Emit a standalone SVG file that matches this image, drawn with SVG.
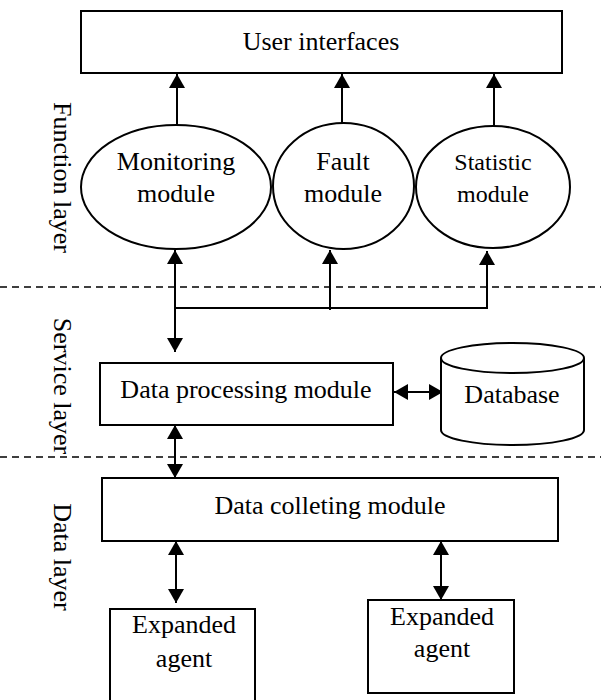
<svg xmlns="http://www.w3.org/2000/svg" width="601" height="700" viewBox="0 0 601 700">
<style>
.box{fill:#fff;stroke:#000;stroke-width:2}
.t{font-family:"Liberation Serif","Times New Roman",serif;font-size:26px;fill:#000;text-anchor:middle}
.ln{stroke:#000;stroke-width:2;fill:none}
.dash{stroke:#000;stroke-width:1.5;stroke-dasharray:7 5}
</style>
<defs>
<marker id="ah" viewBox="0 0 14 16" refX="14" refY="8" markerWidth="14" markerHeight="16" markerUnits="userSpaceOnUse" orient="auto-start-reverse">
<path d="M0,0 L14,8 L0,16 Z" fill="#000"/>
</marker>
</defs>
<rect width="601" height="700" fill="#fff"/>
<g id="layers">
<line class="dash" x1="0" y1="287" x2="601" y2="287"/>
<line class="dash" x1="0" y1="457" x2="601" y2="457"/>
<text class="t" x="54" y="177.5" transform="rotate(90 54 177.5)">Function layer</text>
<text class="t" x="54" y="386" transform="rotate(90 54 386)">Service layer</text>
<text class="t" x="54" y="557" transform="rotate(90 54 557)">Data layer</text>
</g>
<g id="connectors">
<line class="ln" x1="177" y1="125" x2="177" y2="74" marker-end="url(#ah)"/>
<line class="ln" x1="342" y1="123" x2="342" y2="74" marker-end="url(#ah)"/>
<line class="ln" x1="494" y1="127" x2="494" y2="74" marker-end="url(#ah)"/>
<line class="ln" x1="175" y1="308" x2="175" y2="250" marker-end="url(#ah)"/>
<line class="ln" x1="330" y1="310" x2="330" y2="250" marker-end="url(#ah)"/>
<line class="ln" x1="487" y1="308" x2="487" y2="251" marker-end="url(#ah)"/>
<line class="ln" x1="174" y1="308" x2="488" y2="308"/>
<line class="ln" x1="175" y1="308" x2="175" y2="352" marker-end="url(#ah)"/>
<line class="ln" x1="394" y1="392" x2="443" y2="392" marker-start="url(#ah)" marker-end="url(#ah)"/>
<line class="ln" x1="175" y1="425" x2="175" y2="478" marker-start="url(#ah)" marker-end="url(#ah)"/>
<line class="ln" x1="176" y1="541" x2="176" y2="603" marker-start="url(#ah)" marker-end="url(#ah)"/>
<line class="ln" x1="441" y1="541" x2="441" y2="600" marker-start="url(#ah)" marker-end="url(#ah)"/>
</g>
<g id="user-interfaces">
<rect class="box" x="81" y="11" width="481" height="62"/>
<text class="t" x="321" y="50">User interfaces</text>
</g>
<g id="monitoring">
<ellipse class="box" cx="176" cy="187" rx="95" ry="62"/>
<text class="t" x="176" y="170">Monitoring</text>
<text class="t" x="176" y="202">module</text>
</g>
<g id="fault">
<ellipse class="box" cx="343.5" cy="186" rx="70.5" ry="63"/>
<text class="t" x="343" y="170">Fault</text>
<text class="t" x="343" y="202">module</text>
</g>
<g id="statistic">
<ellipse class="box" cx="493" cy="187" rx="77" ry="61"/>
<text class="t" x="493" y="170" style="font-size:24px">Statistic</text>
<text class="t" x="493" y="202" style="font-size:24px">module</text>
</g>
<g id="data-processing">
<rect class="box" x="100" y="363" width="293" height="62"/>
<text class="t" x="246" y="398">Data processing module</text>
</g>
<g id="database">
<path class="box" d="M441,358 L441,430 A71.5,15 0 0 0 584,430 L584,358 A71.5,15 0 0 0 441,358 Z"/>
<path class="ln" d="M441,358 A71.5,15 0 0 0 584,358"/>
<text class="t" x="512" y="403">Database</text>
</g>
<g id="data-collecting">
<rect class="box" x="102" y="478" width="456" height="63"/>
<text class="t" x="330" y="514">Data colleting module</text>
</g>
<g id="agent-left">
<rect class="box" x="110" y="609" width="145" height="100"/>
<text class="t" x="184" y="633">Expanded</text>
<text class="t" x="184" y="667">agent</text>
</g>
<g id="agent-right">
<rect class="box" x="368" y="600" width="146" height="93"/>
<text class="t" x="442" y="625">Expanded</text>
<text class="t" x="442" y="657">agent</text>
</g>
</svg>
